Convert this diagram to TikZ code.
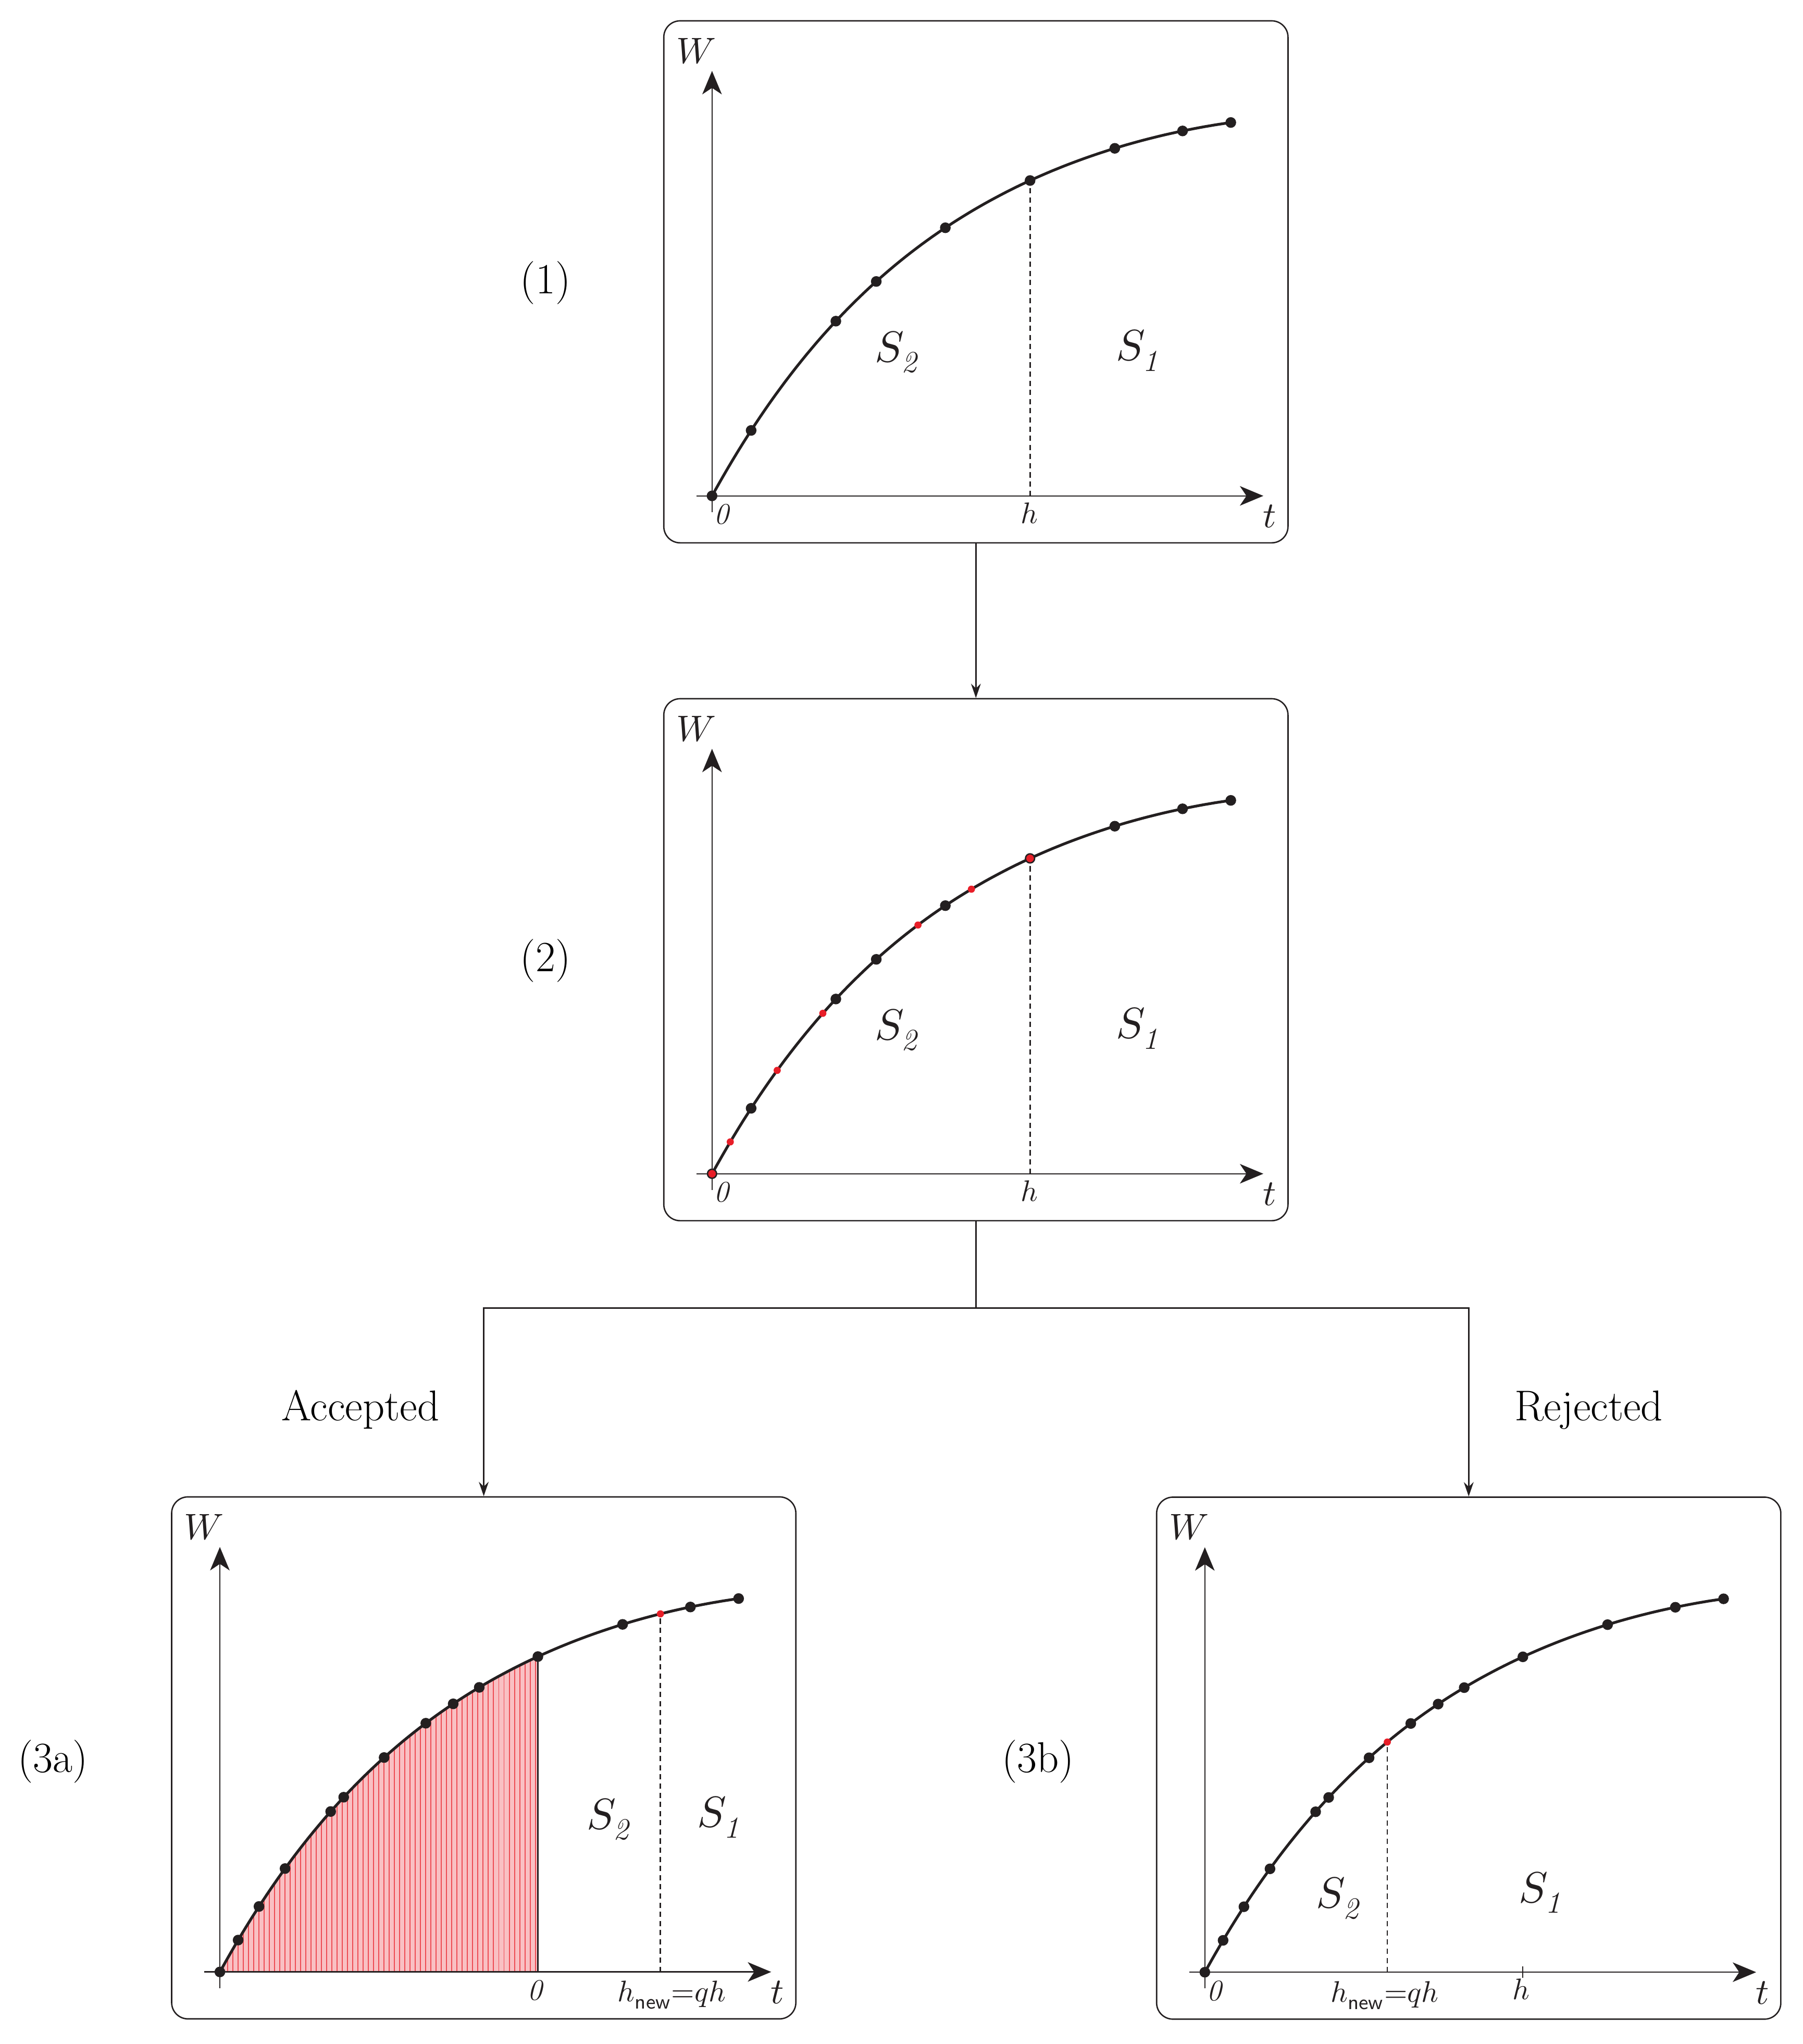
\documentclass[tikz,border=0pt]{standalone}
\usepackage{amsmath}
\usepackage{unicode-math}
\setmathfont{Latin Modern Math}
\usetikzlibrary{arrows.meta}
\definecolor{refred}{RGB}{232,30,40}
\definecolor{ink}{RGB}{35,31,32}
\pgfmathdeclarefunction{Wf}{1}{\pgfmathparse{-(325*(1-exp(-0.0056*#1))-3.6*(#1/398)^6)}}
\newcommand\axescurve[1]{%
  \draw[axisline] (-12,0) -- (423,0);
  \draw[axisline] (0,12.5) -- (0,-326);
  \draw[curveline] plot[domain=0:398,samples=100,variable=\x] (\x,{Wf(\x)});
  \node[mlab,anchor=base] (W#1) at (-12.1,-332) {$W$};
  \node[mlab,anchor=base] (t#1) at (427.7,24.4) {$t$};
}
\newcommand\bdots[1]{\foreach \tv in {#1} \fill[ink] (\tv,{Wf(\tv)}) circle[radius=0.082cm];}
\newcommand\rdots[1]{\foreach \tv in {#1} \fill[refred] (\tv,{Wf(\tv)}) circle[radius=0.055cm];}
\newcommand\ringdots[1]{\foreach \tv in {#1} \filldraw[fill=refred,draw=ink,line width=0.6pt] (\tv,{Wf(\tv)}) circle[radius=0.07cm];}
\begin{document}
\begin{tikzpicture}[x=0.02cm,y=-0.02cm,
  panelbox/.style={draw=ink,line width=0.6pt,rounded corners=0.25cm,minimum width=9.58cm,minimum height=8.01cm,inner sep=0pt},
  axisline/.style={draw=ink,line width=0.55pt,-{Stealth[length=0.36cm,width=0.3cm,inset=0.1cm]}},
  curveline/.style={draw=ink,line width=1.2pt},
  dashline/.style={draw=ink,line width=0.6pt,dash pattern=on 2.3pt off 1.7pt},
  conn/.style={draw=ink,line width=0.65pt,-{Stealth[length=0.22cm,width=0.15cm]}},
  plainconn/.style={draw=ink,line width=0.65pt},
  mlab/.style={inner sep=0pt,text=ink,font=\fontsize{16}{19}\selectfont},
  slab/.style={inner sep=0pt,text=ink,font=\fontsize{13}{15}\selectfont},
  Slab/.style={inner sep=0pt,text=ink,font=\fontsize{19}{22}\selectfont},
  plab/.style={inner sep=0pt,text=black,font=\fontsize{18.8}{22}\selectfont}]
\useasboundingbox (0,0) rectangle (1383,1568);

% boxes
\node[panelbox] (b1) at (748.75,216.2) {};
\node[panelbox] (b2) at (748.75,736.2) {};
\node[panelbox] (b3a) at (371.15,1348.5) {};
\node[panelbox] (b3b) at (1126.85,1348.7) {};

% connectors
\coordinate (split) at (748.75,1003.5);
\draw[conn] (b1.south) -- (b2.north);
\draw[plainconn] (b2.south) -- (split);
\draw[conn] (split) -| (b3a.north);
\draw[conn] (split) -| (b3b.north);

% outer labels
\node[plab,anchor=base] (lab1) at (418.5,225.2) {(1)};
\node[plab,anchor=base] (lab2) at (418.5,745.2) {(2)};
\node[plab,anchor=base] (lab3a) at (40.7,1359.5) {(3a)};
\node[plab,anchor=base] (lab3b) at (796.5,1359.5) {(3b)};
\node[plab,anchor=base] (acc) at (276.5,1089.6) {Accepted};
\node[plab,anchor=base] (rej) at (1219,1089.6) {Rejected};

% panel 1
\begin{scope}[shift={(546.3,380.4)}]
  \draw[dashline] (244,0) -- (244,{Wf(244)});
  \axescurve{1}
  \bdots{0,30,95,126,179,244,309,361,398}
  \node[slab,anchor=base] (z1) at (7.7,21.6) {\textit{0}};
  \node[slab,anchor=base] (h1) at (243.3,21) {$h$};
  \node[Slab,anchor=base west] (Sb1) at (124.6,-103) {$S_{\textit{2}}$};
  \node[Slab,anchor=base west] (Sa1) at (309.7,-104) {$S_{\textit{1}}$};
\end{scope}

% panel 2
\begin{scope}[shift={(546.3,900.4)}]
  \draw[dashline] (244,0) -- (244,{Wf(244)});
  \axescurve{2}
  \bdots{30,95,126,179,309,361,398}
  \rdots{14,50,85,158,199}
  \ringdots{0,244}
  \node[slab,anchor=base] (z2) at (7.7,21.6) {\textit{0}};
  \node[slab,anchor=base] (h2) at (243.3,21) {$h$};
  \node[Slab,anchor=base west] (Sb2) at (124.6,-103) {$S_{\textit{2}}$};
  \node[Slab,anchor=base west] (Sa2) at (309.7,-104) {$S_{\textit{1}}$};
\end{scope}

% panel 3a
\begin{scope}[shift={(168.7,1512.7)}]
  \begin{scope}
    \clip (0,0) -- plot[domain=0:244,samples=60,variable=\x] (\x,{Wf(\x)}) -- (244,0) -- cycle;
    \fill[refred!28] (0,1) rectangle (244,-260);
    \foreach \i in {2,6,...,244} \draw[refred!80,line width=0.45pt] (\i,1) -- (\i,-260);
  \end{scope}
  \draw[ink,line width=0.5pt] (244,0) -- (244,{Wf(244)});
  \draw[dashline] (338,0) -- (338,{Wf(338)});
  \axescurve{3a}
  \bdots{0,14,30,50,85,95,126,158,179,199,244,309,361,398}
  \rdots{338}
  \node[slab,anchor=base] (z3a) at (242.3,21.5) {\textit{0}};
  \node[slab,anchor=base] (hn3a) at (346.8,22.8) {$h_{\mathsf{new}}{=}qh$};
  \node[Slab,anchor=base west] (Sb3a) at (281,-109.7) {$S_{\textit{2}}$};
  \node[Slab,anchor=base west] (Sa3a) at (365.9,-111) {$S_{\textit{1}}$};
\end{scope}

% panel 3b
\begin{scope}[shift={(924.4,1512.9)}]
  \draw[dashline] (140,0) -- (140,{Wf(140)});
  \draw[ink,line width=0.55pt] (244,-4.3) -- (244,4.3);
  \axescurve{3b}
  \bdots{0,14,30,50,85,95,126,158,179,199,244,309,361,398}
  \rdots{140}
  \node[slab,anchor=base] (z3b) at (7.7,21.6) {\textit{0}};
  \node[slab,anchor=base] (hn3b) at (138,22.8) {$h_{\mathsf{new}}{=}qh$};
  \node[slab,anchor=base] (h3b) at (242.8,21) {$h$};
  \node[Slab,anchor=base west] (Sb3b) at (85.2,-49.4) {$S_{\textit{2}}$};
  \node[Slab,anchor=base west] (Sa3b) at (240.6,-53.5) {$S_{\textit{1}}$};
\end{scope}
\end{tikzpicture}
\end{document}
